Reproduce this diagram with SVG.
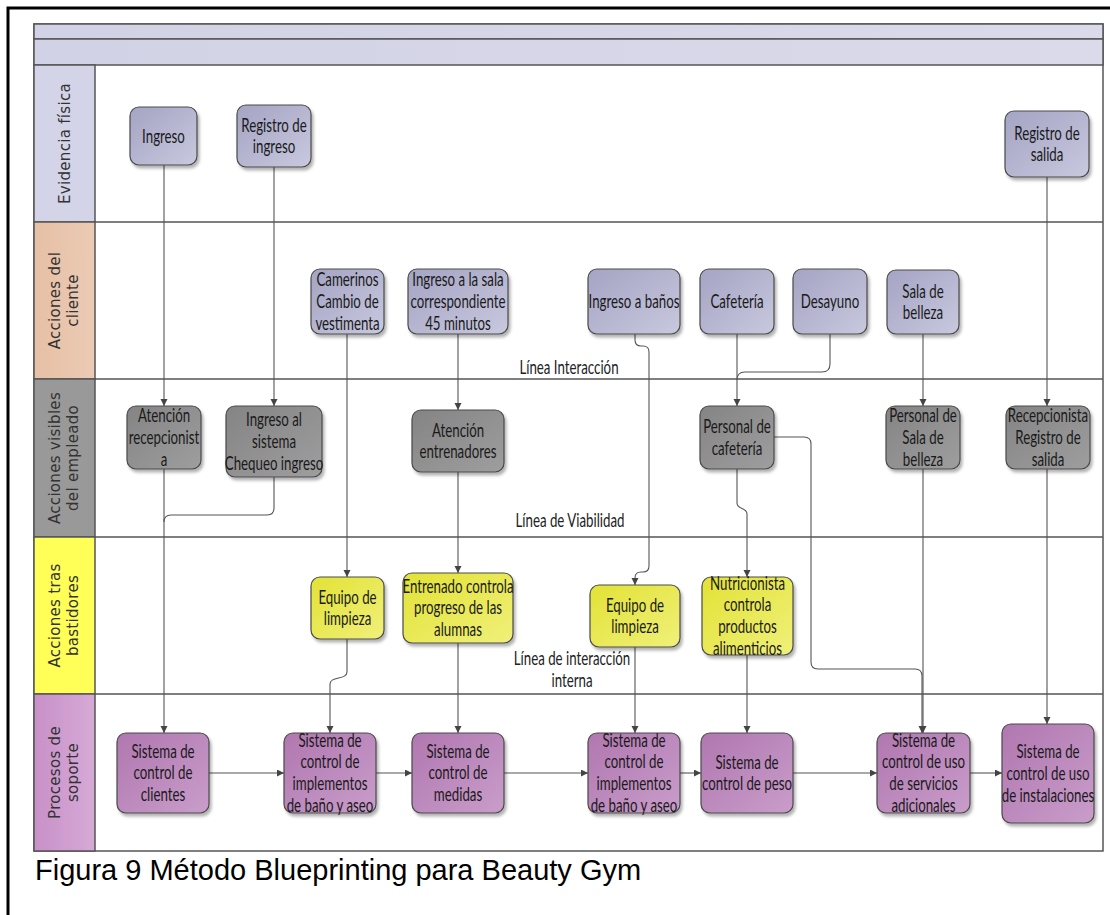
<svg xmlns="http://www.w3.org/2000/svg" width="1110" height="915" viewBox="0 0 1110 915">
<defs>
<style>
.lane{stroke:#555;stroke-width:1.5}
.sep{stroke:#555;stroke-width:1.5;fill:none}
.nd{stroke:#4a4a4a;stroke-width:1.2;filter:url(#sh)}
.nt{font-family:Lato,"Liberation Sans",sans-serif;font-size:19px;fill:#1a1a1a;text-anchor:middle}
.lt{font-family:"DejaVu Sans",sans-serif;font-size:15px;fill:#333;text-anchor:middle;letter-spacing:0.3px}
.cn{stroke:#555;stroke-width:1.1;fill:none}
.ar{marker-end:url(#ah)}
.ll{font-family:Lato,"Liberation Sans",sans-serif;font-size:19px;fill:#222;text-anchor:middle}
</style>
<filter id="sh" x="-10%" y="-10%" width="130%" height="130%">
<feDropShadow dx="2" dy="3" stdDeviation="1.5" flood-color="#000" flood-opacity="0.3"/>
</filter>
<marker id="ah" markerWidth="8" markerHeight="8" refX="7" refY="3.5" orient="auto" markerUnits="userSpaceOnUse">
<path d="M0,0 L7,3.5 L0,7 Z" fill="#444"/>
</marker>
<linearGradient id="gLav" x1="0" y1="0" x2="1" y2="1"><stop offset="0" stop-color="#a4a4c4"/><stop offset="1" stop-color="#c8c8de"/></linearGradient>
<linearGradient id="gGray" x1="0" y1="0" x2="1" y2="1"><stop offset="0" stop-color="#848484"/><stop offset="1" stop-color="#9e9e9e"/></linearGradient>
<linearGradient id="gYel" x1="0" y1="0" x2="1" y2="1"><stop offset="0" stop-color="#e2e236"/><stop offset="1" stop-color="#f0f07a"/></linearGradient>
<linearGradient id="gPur" x1="0" y1="0" x2="1" y2="1"><stop offset="0" stop-color="#b077b0"/><stop offset="1" stop-color="#c99dca"/></linearGradient>
<linearGradient id="gHead" x1="0" y1="0" x2="1" y2="0"><stop offset="0" stop-color="#d2d2e6"/><stop offset="1" stop-color="#dadaea"/></linearGradient>
<linearGradient id="gCli" x1="0" y1="0" x2="1" y2="0"><stop offset="0" stop-color="#e6c0a6"/><stop offset="1" stop-color="#eccab4"/></linearGradient>
<linearGradient id="gSop" x1="0" y1="0" x2="1" y2="0"><stop offset="0" stop-color="#c890c8"/><stop offset="1" stop-color="#d6aad6"/></linearGradient>
</defs>
<rect x="0" y="0" width="1110" height="915" fill="#fff"/>
<path d="M8,915 V8 H1110" fill="none" stroke="#000" stroke-width="3"/>

<g id="swimlanes">
<rect x="34" y="24" width="1069" height="827" fill="#fff" class="lane"/>
<rect x="34" y="24" width="1069" height="15" fill="url(#gHead)" class="lane"/>
<rect x="34" y="39" width="1069" height="26" fill="url(#gHead)" class="lane"/>
<rect x="34" y="65" width="61" height="157" fill="#d4d4e8" class="lane"/>
<rect x="34" y="222" width="61" height="157" fill="url(#gCli)" class="lane"/>
<rect x="34" y="379" width="61" height="158" fill="#999" class="lane"/>
<rect x="34" y="537" width="61" height="157" fill="#ffff58" class="lane"/>
<rect x="34" y="694" width="61" height="157" fill="url(#gSop)" class="lane"/>
<line x1="95" y1="222" x2="1103" y2="222" class="sep"/>
<line x1="95" y1="379" x2="1103" y2="379" class="sep"/>
<line x1="95" y1="537" x2="1103" y2="537" class="sep"/>
<line x1="95" y1="694" x2="1103" y2="694" class="sep"/>
<text class="lt" transform="translate(65,143.5) rotate(-90)" dy="5">Evidencia física</text>
<text class="lt" transform="translate(64,300.5) rotate(-90)"><tspan x="0" y="-4">Acciones del</tspan><tspan x="0" y="14">cliente</tspan></text>
<text class="lt" transform="translate(64,458) rotate(-90)"><tspan x="0" y="-4">Acciones visibles</tspan><tspan x="0" y="14">del empleado</tspan></text>
<text class="lt" transform="translate(64,615.5) rotate(-90)"><tspan x="0" y="-4">Acciones tras</tspan><tspan x="0" y="14">bastidores</tspan></text>
<text class="lt" transform="translate(64,772.5) rotate(-90)"><tspan x="0" y="-4">Procesos de</tspan><tspan x="0" y="14">soporte</tspan></text>
<text class="ll" transform="translate(569,374) scale(0.7,1)">Línea Interacción</text>
<text class="ll" transform="translate(570,527) scale(0.7,1)">Línea de Viabilidad</text>
<text class="ll" transform="translate(572,665) scale(0.7,1)"><tspan x="0" y="0">Línea de interacción</tspan><tspan x="0" y="22">interna</tspan></text>
</g>

<g id="connectors">
<path class="cn ar" d="M164,165 V406"/>
<path class="cn ar" d="M274,167 V406"/>
<path class="cn ar" d="M1047,177 V406"/>
<path class="cn ar" d="M347,334 V577"/>
<path class="cn ar" d="M458,334 V410"/>
<path class="cn ar" d="M635,334 V340 Q635,346 641,346 L643,346 Q649,346 649,352 V566 Q649,572 643,572 L641,572 Q635,572 635,578 V585"/>
<path class="cn ar" d="M458,472 V573"/>
<path class="cn ar" d="M164,469 V733"/>
<path class="cn" d="M274,477 V508 Q274,515 267,515 H171 Q164,515 164,522"/>
<path class="cn ar" d="M347,639 V672 C347,680 330,676 330,684 V733"/>
<path class="cn ar" d="M458,643 V733"/>
<path class="cn ar" d="M635,647 V733"/>
<path class="cn ar" d="M737,334 V406"/>
<path class="cn" d="M830,334 V364 Q830,372 822,372 H745 Q737,372 737,380"/>
<path class="cn ar" d="M737,469 V503 C737,510 747,507 747,514 V577"/>
<path class="cn ar" d="M747,655 V733"/>
<path class="cn ar" d="M774,437 H804 Q811,437 811,444 V662 Q811,669 818,669 H915 Q922,669 922,676 V733"/>
<path class="cn ar" d="M923,334 V406"/>
<path class="cn ar" d="M923,469 V733"/>
<path class="cn ar" d="M1047,469 V724"/>
<path class="cn ar" d="M209,773 H284"/>
<path class="cn ar" d="M376,773 H412"/>
<path class="cn ar" d="M504,773 H588"/>
<path class="cn ar" d="M680,773 H701"/>
<path class="cn ar" d="M793,773 H877"/>
<path class="cn ar" d="M970,773 H1002"/>
</g>

<g id="n_ingreso"><rect class="nd" x="130" y="107" width="67" height="58" rx="9" fill="url(#gLav)"/><text class="nt" transform="translate(163.5,142.5) scale(0.7,1)">Ingreso</text></g>
<g id="n_registro_ingreso"><rect class="nd" x="237" y="105" width="74" height="62" rx="9" fill="url(#gLav)"/><text class="nt" transform="translate(274,131.5) scale(0.7,1)"><tspan x="0" y="0">Registro de</tspan><tspan x="0" y="22">ingreso</tspan></text></g>
<g id="n_registro_salida"><rect class="nd" x="1005" y="111" width="84" height="66" rx="9" fill="url(#gLav)"/><text class="nt" transform="translate(1047,139.5) scale(0.7,1)"><tspan x="0" y="0">Registro de</tspan><tspan x="0" y="22">salida</tspan></text></g>

<g id="n_camerinos"><rect class="nd" x="311" y="269" width="73" height="65" rx="9" fill="url(#gLav)"/><text class="nt" transform="translate(347.5,286) scale(0.7,1)"><tspan x="0" y="0">Camerinos</tspan><tspan x="0" y="22">Cambio de</tspan><tspan x="0" y="44">vestimenta</tspan></text></g>
<g id="n_ingreso_sala"><rect class="nd" x="408" y="269" width="100" height="65" rx="9" fill="url(#gLav)"/><text class="nt" transform="translate(458,286) scale(0.7,1)"><tspan x="0" y="0">Ingreso a la sala</tspan><tspan x="0" y="22">correspondiente</tspan><tspan x="0" y="44">45 minutos</tspan></text></g>
<g id="n_ingreso_banos"><rect class="nd" x="588" y="269" width="92" height="65" rx="9" fill="url(#gLav)"/><text class="nt" transform="translate(634,308) scale(0.7,1)">Ingreso a baños</text></g>
<g id="n_cafeteria"><rect class="nd" x="700" y="269" width="74" height="65" rx="9" fill="url(#gLav)"/><text class="nt" transform="translate(737,308) scale(0.7,1)">Cafetería</text></g>
<g id="n_desayuno"><rect class="nd" x="793" y="269" width="74" height="65" rx="9" fill="url(#gLav)"/><text class="nt" transform="translate(830,308) scale(0.7,1)">Desayuno</text></g>
<g id="n_sala_belleza"><rect class="nd" x="887" y="270" width="72" height="64" rx="9" fill="url(#gLav)"/><text class="nt" transform="translate(923,297.5) scale(0.7,1)"><tspan x="0" y="0">Sala de</tspan><tspan x="0" y="22">belleza</tspan></text></g>

<g id="n_atencion_recep"><rect class="nd" x="127" y="406" width="74" height="63" rx="9" fill="url(#gGray)"/><text class="nt" transform="translate(164,422) scale(0.7,1)"><tspan x="0" y="0">Atención</tspan><tspan x="0" y="22">recepcionist</tspan><tspan x="0" y="44">a</tspan></text></g>
<g id="n_ingreso_sistema"><rect class="nd" x="226" y="406" width="96" height="71" rx="9" fill="url(#gGray)"/><text class="nt" transform="translate(274,426) scale(0.7,1)"><tspan x="0" y="0">Ingreso al</tspan><tspan x="0" y="22">sistema</tspan><tspan x="0" y="44">Chequeo ingreso</tspan></text></g>
<g id="n_atencion_entren"><rect class="nd" x="412" y="410" width="92" height="62" rx="9" fill="url(#gGray)"/><text class="nt" transform="translate(458,436.5) scale(0.7,1)"><tspan x="0" y="0">Atención</tspan><tspan x="0" y="22">entrenadores</tspan></text></g>
<g id="n_personal_cafeteria"><rect class="nd" x="700" y="406" width="74" height="63" rx="9" fill="url(#gGray)"/><text class="nt" transform="translate(737,433) scale(0.7,1)"><tspan x="0" y="0">Personal de</tspan><tspan x="0" y="22">cafetería</tspan></text></g>
<g id="n_personal_sala"><rect class="nd" x="886" y="406" width="74" height="63" rx="9" fill="url(#gGray)"/><text class="nt" transform="translate(923,422) scale(0.7,1)"><tspan x="0" y="0">Personal de</tspan><tspan x="0" y="22">Sala de</tspan><tspan x="0" y="44">belleza</tspan></text></g>
<g id="n_recepcionista"><rect class="nd" x="1006" y="406" width="84" height="63" rx="9" fill="url(#gGray)"/><text class="nt" transform="translate(1048,422) scale(0.7,1)"><tspan x="0" y="0">Recepcionista</tspan><tspan x="0" y="22">Registro de</tspan><tspan x="0" y="44">salida</tspan></text></g>

<g id="n_equipo1"><rect class="nd" x="311" y="577" width="73" height="62" rx="9" fill="url(#gYel)"/><text class="nt" transform="translate(347.5,603.5) scale(0.7,1)"><tspan x="0" y="0">Equipo de</tspan><tspan x="0" y="22">limpieza</tspan></text></g>
<g id="n_entrenado"><rect class="nd" x="403" y="573" width="110" height="70" rx="9" fill="url(#gYel)"/><text class="nt" transform="translate(458,592.5) scale(0.7,1)"><tspan x="0" y="0">Entrenado controla</tspan><tspan x="0" y="22">progreso de las</tspan><tspan x="0" y="44">alumnas</tspan></text></g>
<g id="n_equipo2"><rect class="nd" x="590" y="585" width="90" height="62" rx="9" fill="url(#gYel)"/><text class="nt" transform="translate(635,611.5) scale(0.7,1)"><tspan x="0" y="0">Equipo de</tspan><tspan x="0" y="22">limpieza</tspan></text></g>
<g id="n_nutricionista"><rect class="nd" x="702" y="577" width="91" height="78" rx="9" fill="url(#gYel)"/><text class="nt" transform="translate(747.5,589.5) scale(0.7,1)"><tspan x="0" y="0">Nutricionista</tspan><tspan x="0" y="22">controla</tspan><tspan x="0" y="44">productos</tspan><tspan x="0" y="66">alimenticios</tspan></text></g>

<g id="n_sis_clientes"><rect class="nd" x="117" y="733" width="92" height="80" rx="9" fill="url(#gPur)"/><text class="nt" transform="translate(163,757.5) scale(0.7,1)"><tspan x="0" y="0">Sistema de</tspan><tspan x="0" y="22">control de</tspan><tspan x="0" y="44">clientes</tspan></text></g>
<g id="n_sis_implementos1"><rect class="nd" x="284" y="733" width="92" height="80" rx="9" fill="url(#gPur)"/><text class="nt" transform="translate(330,746.5) scale(0.7,1)"><tspan x="0" y="0">Sistema de</tspan><tspan x="0" y="22">control de</tspan><tspan x="0" y="44">implementos</tspan><tspan x="0" y="66">de baño y aseo</tspan></text></g>
<g id="n_sis_medidas"><rect class="nd" x="412" y="733" width="92" height="80" rx="9" fill="url(#gPur)"/><text class="nt" transform="translate(458,757.5) scale(0.7,1)"><tspan x="0" y="0">Sistema de</tspan><tspan x="0" y="22">control de</tspan><tspan x="0" y="44">medidas</tspan></text></g>
<g id="n_sis_implementos2"><rect class="nd" x="588" y="733" width="92" height="80" rx="9" fill="url(#gPur)"/><text class="nt" transform="translate(634,746.5) scale(0.7,1)"><tspan x="0" y="0">Sistema de</tspan><tspan x="0" y="22">control de</tspan><tspan x="0" y="44">implementos</tspan><tspan x="0" y="66">de baño y aseo</tspan></text></g>
<g id="n_sis_peso"><rect class="nd" x="701" y="733" width="92" height="80" rx="9" fill="url(#gPur)"/><text class="nt" transform="translate(747,768.5) scale(0.7,1)"><tspan x="0" y="0">Sistema de</tspan><tspan x="0" y="22">control de peso</tspan></text></g>
<g id="n_sis_servicios"><rect class="nd" x="877" y="733" width="93" height="80" rx="9" fill="url(#gPur)"/><text class="nt" transform="translate(923.5,746.5) scale(0.7,1)"><tspan x="0" y="0">Sistema de</tspan><tspan x="0" y="22">control de uso</tspan><tspan x="0" y="44">de servicios</tspan><tspan x="0" y="66">adicionales</tspan></text></g>
<g id="n_sis_instalaciones"><rect class="nd" x="1002" y="724" width="92" height="99" rx="9" fill="url(#gPur)"/><text class="nt" transform="translate(1048,758) scale(0.7,1)"><tspan x="0" y="0">Sistema de</tspan><tspan x="0" y="22">control de uso</tspan><tspan x="0" y="44">de instalaciones</tspan></text></g>

<text x="35" y="880" font-family="'Liberation Sans',Arial,sans-serif" font-size="29" fill="#000">Figura 9 Método Blueprinting para Beauty Gym</text>
</svg>
